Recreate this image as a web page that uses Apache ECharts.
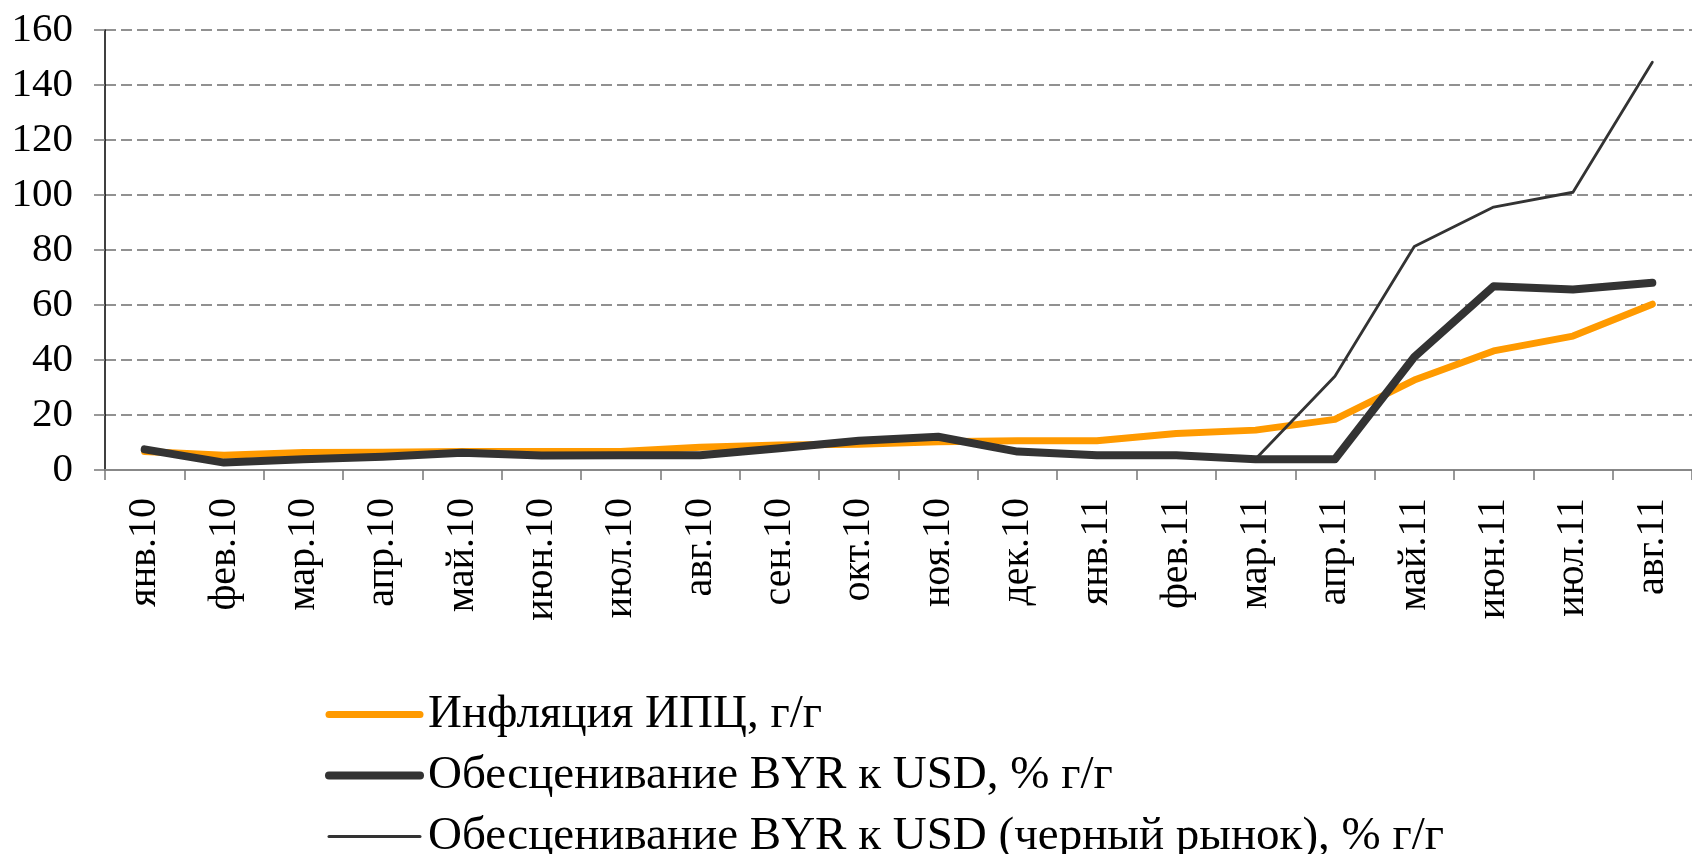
<!DOCTYPE html>
<html>
<head>
<meta charset="utf-8">
<script src="https://cdn.jsdelivr.net/npm/echarts@6/dist/echarts.min.js"></script>
<style>
	html, body { margin: 0; padding: 0; background: #fff; }
	#chart { width: 1692px; height: 854px; }
</style>
</head>
<body>
<div id="chart"></div>
<script>
/*данные*/
var months = ['янв.10', 'фев.10', 'мар.10', 'апр.10', 'май.10', 'июн.10', 'июл.10', 'авг.10', 'сен.10', 'окт.10',
	'ноя.10', 'дек.10', 'янв.11', 'фев.11', 'мар.11', 'апр.11', 'май.11', 'июн.11', 'июл.11', 'авг.11'];
var inflation = [6.7, 5.4, 6.4, 6.5, 6.7, 6.7, 6.7, 8.3, 9.1, 9.4, 10.3, 10.6, 10.6, 13.3, 14.5, 18.4, 32.7, 43.3, 48.7, 60.3];
var officialRate = [7.5, 2.7, 3.9, 4.8, 6.3, 5.3, 5.4, 5.4, 7.9, 10.6, 12.1, 6.7, 5.4, 5.4, 3.9, 3.9, 41.1, 66.8, 65.6, 68.1];
var blackMarket = [null, null, null, null, null, null, null, null, null, null, null, null, null, null, 4.0, 34.1, 81.3, 95.6, 101, 148.3];
var yTicks = [0, 20, 40, 60, 80, 100, 120, 140, 160];
var names = ['Инфляция ИПЦ, г/г', 'Обесценивание BYR к USD, % г/г', 'Обесценивание BYR к USD (черный рынок), % г/г'];

var font = '"Liberation Serif", "Times New Roman", serif';
var orange = '#FF9A00';
var dark = '#333333';

function makeSeries(name, data, color, width) {
	return {
		name: name,
		type: 'line',
		data: data,
		symbol: 'none',
		showSymbol: false,
		connectNulls: false,
		lineStyle: {
			color: color,
			width: width,
			cap: 'round',
			join: 'round'
		},
		itemStyle: {
			color: color
		},
		emphasis: { disabled: true }
	};
}

/*легенда: линия без маркера*/
function legendItem(name, color, width) {
	return {
		name: name,
		lineStyle: { color: color, width: width, cap: 'round' },
		itemStyle: { opacity: 0 }
	};
}

var chart = echarts.init(document.getElementById('chart'));
var option = {
	animation: false,
	backgroundColor: '#fff',
	textStyle: { fontFamily: font },
	grid: {
		left: 105,
		right: -8,
		top: 30,
		bottom: 384,
		containLabel: false
	},
	legend: {
		orient: 'vertical',
		left: 320,
		top: 686,
		height: 200,
		itemWidth: 91,
		itemHeight: 10,
		itemGap: 14,
		selectedMode: false,
		data: [
			legendItem(names[0], orange, 7),
			legendItem(names[1], dark, 8),
			legendItem(names[2], dark, 3)
		],
		textStyle: {
			fontFamily: font,
			fontSize: 47,
			color: '#000',
			lineHeight: 44,
			padding: [0, 0, 0, 3]
		}
	},
	xAxis: {
		type: 'category',
		data: months,
		boundaryGap: true,
		axisLine: { show: true, lineStyle: { color: '#888', width: 2 } },
		axisTick: { show: true, length: 10, lineStyle: { color: '#777', width: 1.5 } },
		axisLabel: {
			rotate: 90,
			margin: 28,
			fontFamily: font,
			fontSize: 40,
			color: '#000',
			interval: 0
		},
		splitLine: { show: false }
	},
	yAxis: {
		type: 'value',
		min: yTicks[0],
		max: yTicks[yTicks.length - 1],
		interval: 20,
		axisLine: { show: true, lineStyle: { color: '#000', width: 1.5 } },
		axisTick: { show: true, length: 11, lineStyle: { color: '#777', width: 1.5 } },
		axisLabel: {
			margin: 32,
			fontFamily: font,
			fontSize: 41,
			color: '#000'
		},
		splitLine: {
			show: true,
			lineStyle: { color: '#6e6e6e', width: 1.5, type: [11, 5] }
		}
	},
	series: [
		makeSeries(names[0], inflation, orange, 7),
		makeSeries(names[1], officialRate, dark, 8),
		makeSeries(names[2], blackMarket, dark, 2.8)
	]
};
chart.setOption(option);
</script>
</body>
</html>
